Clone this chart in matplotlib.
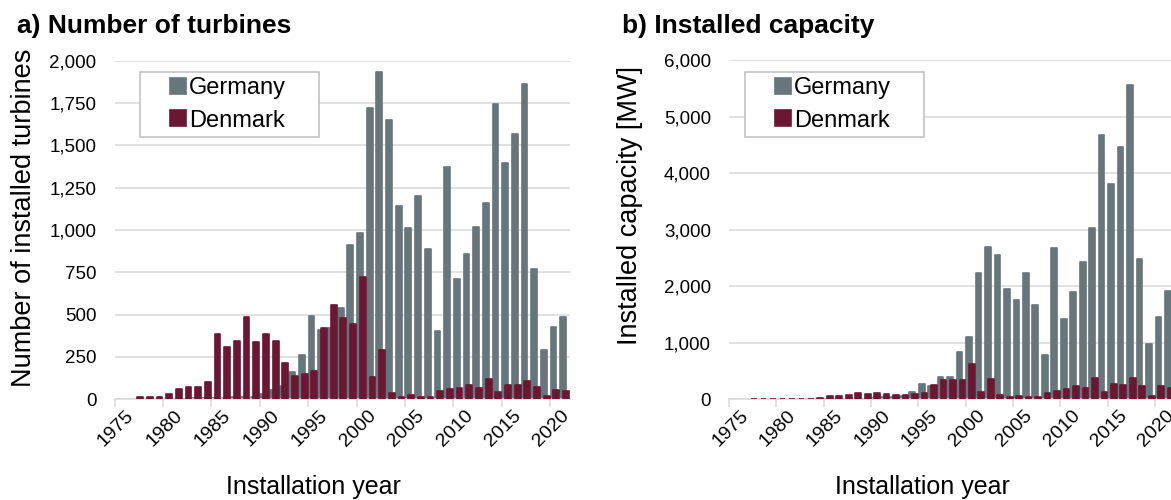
import numpy as np
import matplotlib.pyplot as plt
import matplotlib.transforms as mtransforms
from matplotlib.patches import Rectangle, Patch
from matplotlib.ticker import FuncFormatter

plt.rcParams['font.family'] = ['Liberation Sans', 'DejaVu Sans']

years = list(range(1975, 2022))

# installed turbines per year
de_turbines = [0, 0, 0, 0, 0, 0, 1, 2, 3, 3, 5, 8, 10, 12, 14, 28, 51, 79, 162, 263,
               492, 409, 419, 539, 912, 981, 1720, 1936, 1649, 1141, 1013, 1202, 885, 402,
               1373, 713, 857, 1020, 1162, 1743, 1397, 1566, 1866, 770, 288, 427, 483]
dk_turbines = [0, 0, 11, 13, 12, 32, 62, 73, 71, 101, 385, 308, 342, 488, 335, 385, 341, 212,
               134, 150, 164, 419, 556, 477, 443, 723, 132, 292, 33, 14, 24, 14, 12, 47,
               59, 63, 83, 63, 120, 43, 83, 81, 106, 69, 16, 53, 49]

# installed capacity per year [MW]
de_capacity = [0, 0, 0, 0, 0, 0, 0, 1, 3, 2, 2, 3, 5, 6, 10, 20, 40, 45, 65, 125,
               265, 235, 400, 390, 845, 1095, 2227, 2690, 2550, 1950, 1755, 2235, 1665, 790,
               2678, 1425, 1895, 2432, 3025, 4680, 3808, 4468, 5550, 2482, 975, 1455, 1920]
dk_capacity = [0, 0, 5, 5, 6, 8, 10, 12, 12, 18, 50, 53, 72, 110, 85, 115, 100, 76,
               68, 88, 112, 245, 335, 345, 337, 620, 130, 355, 68, 42, 50, 42, 36, 104,
               145, 183, 228, 200, 378, 130, 262, 250, 372, 234, 53, 242, 200]

C_DE = '#66767a'
C_DK = '#6b1734'
GRID = '#d9d9d9'

W, H = 1171, 500
fig = plt.figure(figsize=(W / 100, H / 100), dpi=100)


def px_box(x0, x1, y_top, y_bot):
    return [x0 / W, 1 - y_bot / H, (x1 - x0) / W, (y_bot - y_top) / H]


def draw_panel(ax, de, dk, ymax, ystep):
    x = np.arange(len(years))
    b1 = ax.bar(x - 0.145, de, width=0.6, color=C_DE, edgecolor=C_DE, linewidth=1.2, zorder=2)
    b2 = ax.bar(x + 0.145, dk, width=0.6, color=C_DK, edgecolor=C_DK, linewidth=1.2, zorder=3)
    for bars in (b1, b2):
        for p in bars:
            p.set_joinstyle('round')
            if p.get_height() == 0:
                p.set_linewidth(0)

    ax.set_xlim(-0.5, len(years) - 0.5)
    ax.set_ylim(0, ymax)
    ax.set_yticks(np.arange(0, ymax + 1, ystep))
    ax.yaxis.set_major_formatter(FuncFormatter(lambda v, _: f'{v:,.0f}'))
    ax.grid(axis='y', color=GRID, lw=1.1)
    ax.set_axisbelow(True)
    for s in ('left', 'right', 'top'):
        ax.spines[s].set_visible(False)
    ax.spines['bottom'].set_color(GRID)
    ax.spines['bottom'].set_linewidth(1.1)

    idx = list(range(0, len(years), 5))
    ax.set_xticks(idx, [str(years[i]) for i in idx], rotation=45,
                  ha='right', va='center', rotation_mode='anchor')
    ax.set_xticks(np.arange(-0.5, len(years), 5), minor=True)
    ax.tick_params(axis='x', which='major', length=0, pad=10, labelsize=14)
    ax.tick_params(axis='x', which='minor', length=6, color=GRID, width=1.1)
    ax.tick_params(axis='y', length=0, pad=13, labelsize=13.5)

    # nudge the slanted year labels to the right
    shift = mtransforms.ScaledTranslation(0.12, 0, fig.dpi_scale_trans)
    for lab in ax.get_xticklabels():
        lab.set_transform(lab.get_transform() + shift)


def draw_legend(x0, x1, y0, y1, hx, hy):
    fig.add_artist(Rectangle((x0 / W, 1 - y1 / H), (x1 - x0) / W, (y1 - y0) / H,
                             transform=fig.transFigure, facecolor='white',
                             edgecolor='#bfbfbf', lw=1.1, zorder=5))
    handles = [Patch(facecolor=C_DE, edgecolor=C_DE, lw=1.2, joinstyle='round', label='Germany'),
               Patch(facecolor=C_DK, edgecolor=C_DK, lw=1.2, joinstyle='round', label='Denmark')]
    leg = fig.legend(handles=handles, loc='upper left', bbox_to_anchor=(hx / W, 1 - hy / H),
                     frameon=False, fontsize=17, handlelength=0.66, handleheight=0.66,
                     handletextpad=0.15, labelspacing=0.45, borderpad=0, borderaxespad=0)
    leg.set_zorder(6)


ax1 = fig.add_axes(px_box(114.5, 569.5, 61, 399))
draw_panel(ax1, de_turbines, dk_turbines, 2000, 250)

ax2 = fig.add_axes(px_box(729, 1174, 60, 399.3))
draw_panel(ax2, de_capacity, dk_capacity, 6000, 1000)

draw_legend(140, 319, 72, 137, 170, 77)
draw_legend(745, 924, 72, 137, 775, 77)

fig.text(17 / W, 1 - 26 / H, 'a) Number of turbines', fontsize=19, weight='bold', va='center')
fig.text(622 / W, 1 - 26 / H, 'b) Installed capacity', fontsize=19, weight='bold', va='center')

fig.text(24 / W, 1 - 218 / H, 'Number of installed turbines', rotation=90,
         ha='center', va='center', fontsize=19.5)
fig.text(630 / W, 1 - 206 / H, 'Installed capacity [MW]', rotation=90,
         ha='center', va='center', fontsize=19.5)

fig.text(313 / W, 1 - 487 / H, 'Installation year', ha='center', va='center', fontsize=18)
fig.text(922 / W, 1 - 487 / H, 'Installation year', ha='center', va='center', fontsize=18)

fig.savefig('out.png', dpi=100)
